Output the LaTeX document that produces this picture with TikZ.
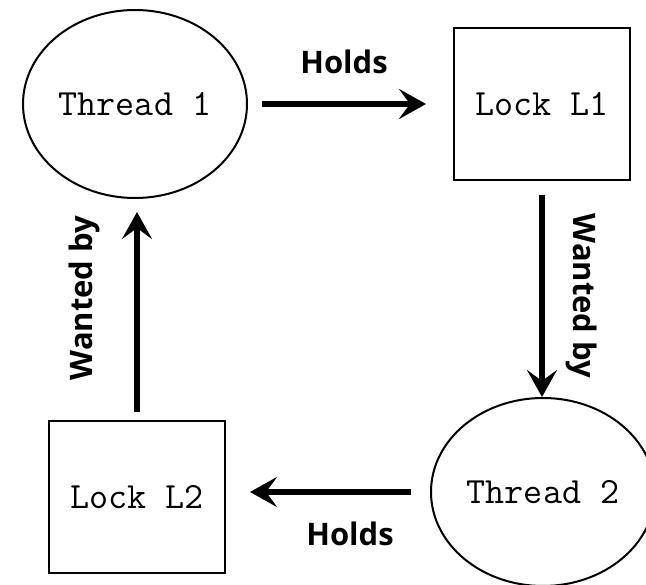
\documentclass[tikz,border=0pt]{standalone}
\usepackage{fontspec}
\newfontfamily\lblfont{Open Sans}
\usetikzlibrary{shapes.geometric,arrows.meta}
\begin{document}
\begin{tikzpicture}[x=1pt,y=-1pt,
  thr/.style={draw,line width=2pt,ellipse,inner sep=0pt,minimum width=224pt,minimum height=188pt,font=\ttfamily\fontsize{37}{40}\selectfont},
  lck/.style={draw,line width=2pt,rectangle,inner sep=0pt,minimum width=176pt,minimum height=152pt,font=\ttfamily\fontsize{37}{40}\selectfont},
  arr/.style={line width=6pt,-{Stealth[length=27pt,width=30pt,inset=11pt]}},
  lbl/.style={font=\lblfont\bfseries\fontsize{31}{34}\selectfont,inner sep=0pt}]
\useasboundingbox (0,0) rectangle (646,585);
\clip (0,0) rectangle (646,585);
\node[thr] (t1) at (135,104) {Thread 1};
\node[lck] (l1) at (542,104) {Lock L1};
\node[thr] (t2) at (543,492) {Thread 2};
\node[lck] (l2) at (137,497) {Lock L2};
\draw[arr,shorten <=14pt,shorten >=27pt] (t1.east) -- (l1.west);
\draw[arr,shorten <=14pt] (l1.south) -- (l1.south |- t2.north);
\draw[arr,shorten <=19pt,shorten >=24pt] (t2.west) -- (t2.west -| l2.east);
\draw[arr,shorten <=8pt,shorten >=13pt] (l2.north) -- (l2.north |- t1.south);
\node[lbl] (h1) at (344,62) {Holds};
\node[lbl] (h2) at (350,534) {Holds};
\node[lbl,rotate=-90] (w1) at (582,296) {Wanted by};
\node[lbl,rotate=90] (w2) at (84,298) {Wanted by};
\end{tikzpicture}
\end{document}
